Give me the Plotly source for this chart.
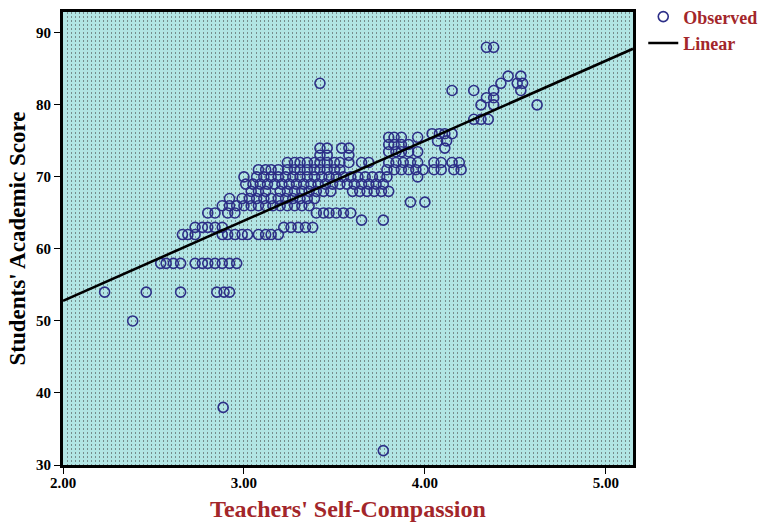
import plotly.graph_objects as go

# ---- data ----
# Observed points grouped by score level (y) with the self-compassion values (x) at that level
row_scores = [88, 84, 83, 82, 81, 80, 78, 76, 75, 74, 75.5, 74.5, 73.5, 74, 73, 72, 71, 70, 69, 68, 67, 66,
              66.5, 65, 64, 63, 62, 58, 54, 50, 38, 32]
row_x = [
    [4.34, 4.38],
    [4.46, 4.53],
    [3.42, 4.42, 4.51, 4.54],
    [4.15, 4.27, 4.38, 4.53],
    [4.34, 4.38],
    [4.31, 4.38, 4.62],
    [4.27, 4.31, 4.35],
    [4.04, 4.08, 4.11, 4.15],
    [4.07, 4.12],
    [4.11],
    [3.80, 3.83, 3.87, 3.96],
    [3.80, 3.83, 3.87, 3.91],
    [3.80, 3.84, 3.87, 3.91, 3.96],
    [3.42, 3.46, 3.54, 3.58],
    [3.42, 3.46, 3.58],
    [3.24, 3.28, 3.31, 3.35, 3.39, 3.42, 3.46, 3.50, 3.53, 3.58, 3.65, 3.69, 3.80, 3.84, 3.88, 3.92, 3.96,
     4.05, 4.09, 4.15, 4.19],
    [3.08, 3.12, 3.15, 3.19, 3.24, 3.28, 3.31, 3.35, 3.39, 3.42, 3.46, 3.50, 3.53, 3.79, 3.83, 3.87, 3.91,
     3.95, 3.99, 4.05, 4.09, 4.16, 4.20],
    [3.00, 3.07, 3.11, 3.15, 3.19, 3.23, 3.27, 3.31, 3.35, 3.39, 3.43, 3.47, 3.51, 3.55, 3.59, 3.63, 3.67,
     3.71, 3.75, 3.79, 3.96],
    [3.01, 3.05, 3.09, 3.13, 3.17, 3.21, 3.25, 3.29, 3.33, 3.37, 3.41, 3.45, 3.49, 3.53, 3.57, 3.61, 3.65,
     3.69, 3.73, 3.77],
    [3.04, 3.08, 3.12, 3.20, 3.24, 3.28, 3.32, 3.36, 3.40, 3.44, 3.48, 3.60, 3.64, 3.68, 3.72, 3.76, 3.80],
    [2.92, 2.99, 3.03, 3.07, 3.11, 3.15, 3.19, 3.23, 3.27, 3.31, 3.35, 3.39],
    [2.88, 2.92, 2.96, 3.00, 3.04, 3.08, 3.12, 3.16, 3.20, 3.24, 3.28, 3.32, 3.36],
    [3.92, 4.00],
    [2.80, 2.84, 2.91, 2.95, 3.40, 3.44, 3.47, 3.51, 3.55, 3.59],
    [3.65, 3.77],
    [2.73, 2.77, 2.80, 2.84, 2.88, 3.22, 3.26, 3.30, 3.34, 3.38],
    [2.66, 2.69, 2.73, 2.88, 2.91, 2.95, 2.99, 3.02, 3.08, 3.12, 3.15, 3.19],
    [2.54, 2.57, 2.61, 2.65, 2.73, 2.77, 2.80, 2.84, 2.88, 2.92, 2.96],
    [2.23, 2.46, 2.65, 2.85, 2.89, 2.92],
    [2.385],
    [2.885],
    [3.77],
]

# Linear fit line end points
linear_x = [2.0, 5.15]
linear_y = [52.8, 87.8]

x_ticks = [2.0, 3.0, 4.0, 5.0]
y_ticks = [30, 40, 50, 60, 70, 80, 90]

observed_x = []
observed_y = []
for s, xs in zip(row_scores, row_x):
    for v in xs:
        observed_x.append(v)
        observed_y.append(s)

serif = "Liberation Serif, Times New Roman, serif"
red = "#A3262A"
dotgrey = "#768C8C"

fig = go.Figure()
fig.add_trace(go.Scatter(
    x=observed_x, y=observed_y, mode="markers", name="Observed",
    marker=dict(symbol="circle-open", size=10, color="#2D2F88",
                line=dict(width=1.6, color="#2D2F88")),
))
fig.add_trace(go.Scatter(
    x=linear_x, y=linear_y, mode="lines", name="Linear",
    line=dict(color="black", width=2.6),
))

fig.update_layout(
    width=763, height=522,
    margin=dict(l=63, r=130, t=12, b=57, autoexpand=False),
    paper_bgcolor="white",
    plot_bgcolor="#B2E5E4",
    showlegend=True,
    legend=dict(x=1.018, y=1.03, xanchor="left", yanchor="top",
                font=dict(family=serif, size=18, color=red, weight="bold"),
                tracegroupgap=0, itemwidth=30, bgcolor="rgba(0,0,0,0)"),
    xaxis=dict(
        range=[2.0, 5.15], tickvals=x_ticks, tickformat=".2f", automargin=False,
        showline=True, linecolor="black", linewidth=3, mirror=True,
        ticks="outside", ticklen=6, tickwidth=1, tickcolor="black",
        ticklabelstandoff=-4,
        tickfont=dict(family=serif, size=15, color="black", weight="bold"),
        showgrid=True, gridcolor=dotgrey, gridwidth=1, griddash="2px,2px",
        minor=dict(dtick=1/45, tick0=2.0, showgrid=True, gridcolor=dotgrey,
                   gridwidth=1, griddash="2px,2px"),
        zeroline=False,
        title=dict(text="Teachers' Self-Compassion", standoff=20,
                   font=dict(family=serif, size=24, color=red, weight="bold")),
    ),
    yaxis=dict(
        range=[30, 92.9], tickvals=y_ticks, tickformat="d", automargin=False,
        showline=True, linecolor="black", linewidth=3, mirror=True,
        ticks="outside", ticklen=6, tickwidth=1, tickcolor="black",
        tickfont=dict(family=serif, size=15, color="black", weight="bold"),
        showgrid=False, zeroline=False,
        title=dict(text="Students' Academic Score", standoff=4,
                   font=dict(family=serif, size=23, color="black", weight="bold")),
    ),
)

fig.write_html("out.html", config={"displayModeBar": False},
               post_script="document.body.style.margin='0';document.body.style.padding='0';")
